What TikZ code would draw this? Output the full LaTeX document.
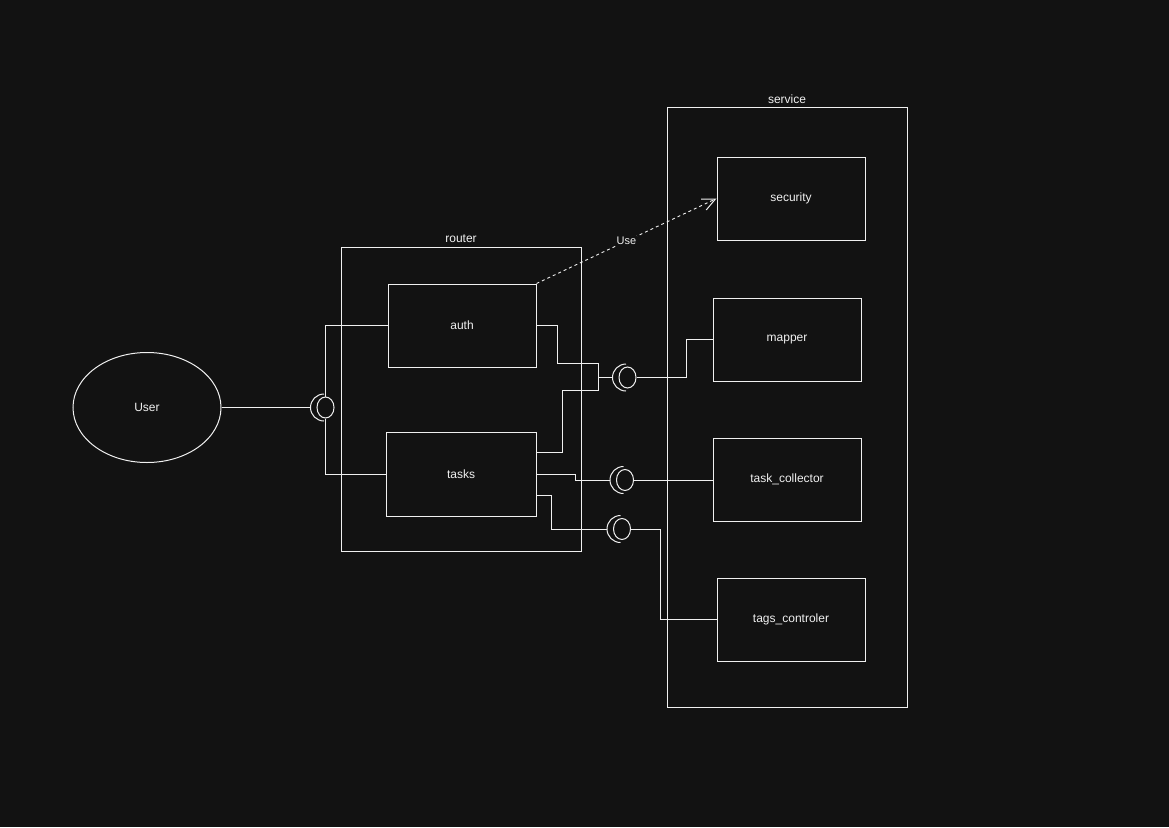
\documentclass[tikz,border=0pt]{standalone}
\usepackage{fontspec}
\setmainfont{Liberation Sans}
\usetikzlibrary{shapes.geometric,arrows.meta,calc}
\definecolor{bg}{HTML}{121212}
\definecolor{fg}{HTML}{F0F0F0}
\begin{document}
\begin{tikzpicture}[x=1pt,y=-1pt,
  every node/.style={text=fg,font=\fontsize{12}{14}\selectfont},
  comp/.style={draw=fg,line width=1pt,rectangle,minimum width=148pt,minimum height=83pt,inner sep=0pt},
  frame/.style={draw=fg,line width=0.8pt,rectangle,inner sep=0pt},
  ball/.style={draw=fg,line width=1pt,ellipse,minimum width=17pt,minimum height=21pt,inner sep=0pt},
  wire/.style={draw=fg,line width=1pt},
  ttl/.style={inner sep=0pt}]
\fill[bg] (0,0) rectangle (1169,827);
\useasboundingbox (0,0) rectangle (1169,827);
% frames
\node[frame,minimum width=240pt,minimum height=304pt] (router) at (461,399) {};
\node[ttl] (routerl) at (461,239) {router};
\node[frame,minimum width=240pt,minimum height=600pt] (service) at (787,407) {};
\node[ttl] (servicel) at (787,99) {service};
% components
\node[comp] (auth) at (462,325.5) {\raisebox{-1pt}{auth}};
\node[comp,minimum width=150pt,minimum height=84pt] (tasks) at (461,474) {\raisebox{-1pt}{tasks}};
\node[comp] (security) at (791,198.5) {\raisebox{-1pt}{security}};
\node[comp] (mapper) at (787,339.5) {\raisebox{-1pt}{mapper}};
\node[comp] (tc) at (787,479.5) {\raisebox{-1pt}{task\_collector}};
\node[comp] (tags) at (791,619.5) {\raisebox{-1pt}{tags\_controler}};
\node[draw=fg,line width=1pt,ellipse,minimum width=148pt,minimum height=110pt,inner sep=0pt] (user) at (147,407.5) {User};
% balls
\node[ball] (b1) at (325.5,407.5) {};
\node[ball] (b2) at (627.5,377.5) {};
\node[ball] (b3) at (625,480) {};
\node[ball] (b4) at (622,529) {};
% sockets
\foreach \b in {b1,b2,b3,b4}{
  \draw[wire] ($(\b.center)+(-1.5,-13.5)$) arc[start angle=90,end angle=270,radius=13.5pt];
}
\coordinate (s1) at ($(b1.center)+(-15,0)$);
\coordinate (s2) at ($(b2.center)+(-15,0)$);
\coordinate (s3) at ($(b3.center)+(-15,0)$);
\coordinate (s4) at ($(b4.center)+(-15,0)$);
% wires
\draw[wire] (user.east) -- (s1);
\draw[wire] (b1.north) -- (b1.north |- auth.west) -- (auth.west);
\draw[wire] (b1.south) -- (b1.south |- tasks.west) -- (tasks.west);
\coordinate (j1) at (598,363);
\coordinate (j2) at (598,390);
\coordinate (te1) at ($(tasks.north east)+(0,21)$);
\coordinate (te2) at ($(tasks.south east)+(0,-21)$);
\draw[wire] (auth.east) -| (557,363) -- (j1) -- (j2) -- (562,390) |- (te1);
\draw[wire] (598,377.5) -- (s2);
\draw[wire] (b2.east) -- (686,377.5) |- (mapper.west);
\draw[wire] (tasks.east) -- (575,474) |- (s3);
\draw[wire] (b3.east) -- (tc.west |- b3.east);
\draw[wire] (te2) -| (551,529) -- (s4);
\draw[wire] (b4.east) -- (660,529) |- (tags.west);
% dependency
\draw[fg,line width=0.9pt,dash pattern=on 3pt off 3pt,-{Straight Barb[length=13pt,width=12pt,line width=1pt]}]
  (auth.north east) -- (security.west)
  node[pos=0.5,fill=bg,inner sep=1pt,font=\fontsize{11}{13}\selectfont] (usel) {Use};
\end{tikzpicture}
\end{document}
